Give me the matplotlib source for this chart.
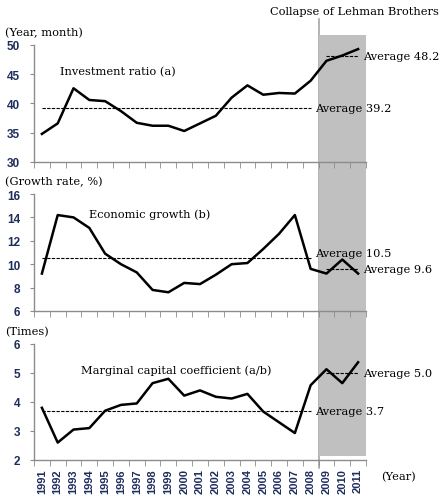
import matplotlib
matplotlib.use("Agg")
import matplotlib.pyplot as plt
from matplotlib.patches import Rectangle
from matplotlib.lines import Line2D
from matplotlib.transforms import blended_transform_factory

# data
years = ['1991', '1992', '1993', '1994', '1995', '1996', '1997', '1998', '1999', '2000',
         '2001', '2002', '2003', '2004', '2005', '2006', '2007', '2008', '2009', '2010', '2011']
invest_ratio = [34.8, 36.6, 42.6, 40.6, 40.4, 38.7, 36.7, 36.2, 36.2, 35.3,
                36.6, 37.9, 41.0, 43.1, 41.5, 41.8, 41.7, 43.9, 47.3, 48.2, 49.3]
growth = [9.2, 14.2, 14.0, 13.1, 10.9, 10.0, 9.3, 7.8, 7.6, 8.4,
          8.3, 9.1, 10.0, 10.1, 11.3, 12.6, 14.2, 9.6, 9.2, 10.4, 9.2]
capital_coef = [3.8, 2.6, 3.05, 3.1, 3.7, 3.9, 3.95, 4.65, 4.8, 4.22,
                4.4, 4.18, 4.12, 4.28, 3.67, 3.3, 2.93, 4.58, 5.13, 4.65, 5.37]
avg_before = [39.2, 10.5, 3.7]
avg_after = [48.2, 9.6, 5.0]

series = [invest_ratio, growth, capital_coef]
units = ['(Year, month)', '(Growth rate, %)', '(Times)']
names = ['Investment ratio (a)', 'Economic growth (b)', 'Marginal capital coefficient (a/b)']
name_pos = [(1.15, 45.6), (2.95, 14.3), (2.45, 5.1)]
ylims = [(30, 50), (6, 16), (2, 6)]
ystep = [5, 2, 1]

W, H = 444, 502
fig = plt.figure(figsize=(W / 100, H / 100), dpi=100)

serif = 'DejaVu Serif'
sans = 'Liberation Sans'
fs = 8.2
navy = '#1f2d5c'
grey = '#8c8c8c'

# pixel boxes (top, bottom) of the three panels
boxes = [(46, 163), (195, 312), (345, 461)]
left, right = 34, 366
n = len(years)
axes = []
for k, (top, bot) in enumerate(boxes):
    ax = fig.add_axes([left / W, 1 - bot / H, (right - left) / W, (bot - top) / H])
    ax.set_facecolor('none')
    ax.plot(range(n), series[k], color='black', lw=1.8, zorder=3)
    # period averages
    ax.plot([0, 17], [avg_before[k]] * 2, color='black', lw=0.8, dashes=(3, 1.2))
    ax.plot([18, 20], [avg_after[k]] * 2, color='black', lw=0.8, dashes=(3, 1.2))
    dy = 0.45 if k == 1 else 0
    ax.text(17.25, avg_before[k] + dy, 'Average %.1f' % avg_before[k], family=serif,
            fontsize=fs, va='center', ha='left')
    ax.text(20.3, avg_after[k], 'Average %.1f' % avg_after[k], family=serif,
            fontsize=fs, va='center', ha='left')
    ax.text(name_pos[k][0], name_pos[k][1], names[k], family=serif, fontsize=fs,
            va='center', ha='left')

    ax.set_xlim(-0.5, n - 0.5)
    ax.set_ylim(*ylims[k])
    ax.set_yticks(range(ylims[k][0], ylims[k][1] + 1, ystep[k]))
    ax.set_xticks([i - 0.5 for i in range(n + 1)], minor=True)
    ax.set_xticks(range(n))
    if k == 2:
        ax.set_xticklabels(years, rotation=90, fontsize=8, fontweight='bold',
                           color=navy, family=sans)
    else:
        ax.set_xticklabels([])
    ax.tick_params(axis='x', which='major', length=0, pad=6)
    ax.tick_params(axis='x', which='minor', length=4, color=grey, direction='out')
    ax.tick_params(axis='y', length=3, color=grey, labelsize=8.5, labelcolor=navy, pad=7)
    for lab in ax.get_yticklabels():
        lab.set_fontweight('bold')
        lab.set_family(sans)
    for s in ['top', 'right']:
        ax.spines[s].set_visible(False)
    for s in ['left', 'bottom']:
        ax.spines[s].set_color(grey)
        ax.spines[s].set_linewidth(1)
    fig.text(5 / W, 1 - (top - 13) / H, units[k], family=serif, fontsize=fs,
             va='center', ha='left')
    axes.append(ax)

# grey band after the Lehman collapse, spanning all panels
tr = blended_transform_factory(axes[2].transData, fig.transFigure)
fig.patches.append(Rectangle((17.5, 1 - 457 / H), 3, (457 - 36) / H, transform=tr,
                             facecolor='#c0c0c0', edgecolor='none', zorder=-1))
fig.lines.append(Line2D([17.5, 17.5], [1 - 469 / H, 1 - 20 / H], transform=tr,
                        color='#a6a6a6', lw=1.2, zorder=-2))
fig.text(439 / W, 1 - 12 / H, 'Collapse of Lehman Brothers', family=serif, fontsize=fs,
         ha='right', va='center')
fig.text(381 / W, 1 - 477 / H, '(Year)', family=serif, fontsize=fs, ha='left', va='center')

fig.savefig('out.png', dpi=100)
